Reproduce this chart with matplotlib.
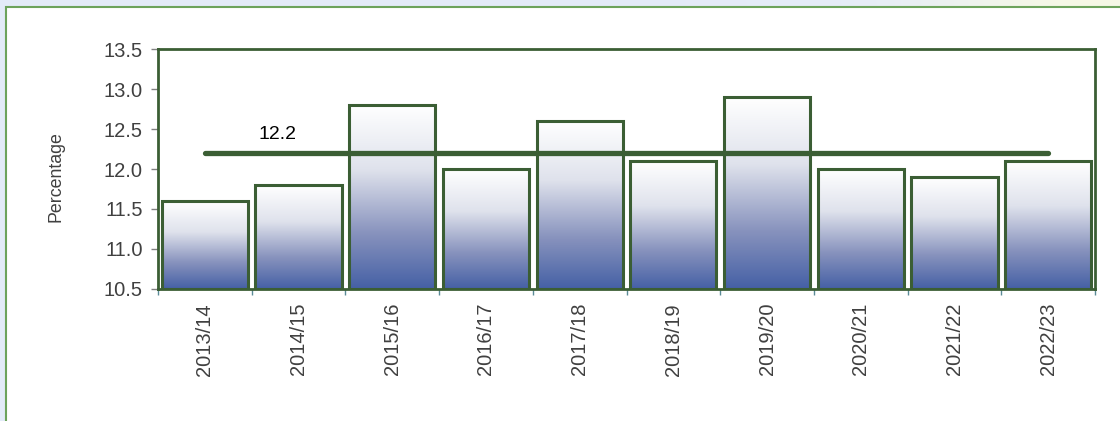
import numpy as np
import matplotlib
matplotlib.use("Agg")
import matplotlib.pyplot as plt
from matplotlib.colors import LinearSegmentedColormap
from matplotlib.patches import Rectangle

# data
years = ["2013/14", "2014/15", "2015/16", "2016/17", "2017/18",
         "2018/19", "2019/20", "2020/21", "2021/22", "2022/23"]
values = [11.6, 11.8, 12.8, 12.0, 12.6, 12.1, 12.9, 12.0, 11.9, 12.1]
average = 12.2
y_ticks = [10.5, 11.0, 11.5, 12.0, 12.5, 13.0, 13.5]

plt.rcParams['font.family'] = ['Liberation Sans', 'DejaVu Sans']

green = "#3b5e34"
fig = plt.figure(figsize=(11.2, 4.21), dpi=100)

# page background: light blue with a pale glow top right
bg = fig.add_axes([0, 0, 1, 1], zorder=-10)
h, w = 421, 1120
yy, xx = np.mgrid[0:h, 0:w]
glow = np.exp(-(((xx - 1090) / 160.0) ** 2 + ((yy - 0) / 40.0) ** 2))
base = np.array([0.894, 0.925, 0.976])
hi = np.array([0.965, 0.975, 0.90])
img = base[None, None, :] * (1 - glow[..., None]) + hi[None, None, :] * glow[..., None]
bg.imshow(img, extent=[0, w, h, 0], aspect='auto')
bg.add_patch(Rectangle((5.5, 6.5), 1200, 500, facecolor='white',
                       edgecolor='#6da35c', lw=1.5))
bg.set_xlim(0, w)
bg.set_ylim(h, 0)
bg.axis('off')

ax = fig.add_axes([158 / w, 1 - 289 / h, (1095 - 158) / w, (289 - 49) / h])
ax.set_facecolor('none')

cmap = LinearSegmentedColormap.from_list(
    "barfade", [(0, "#4560a5"), (0.3, "#8792bd"), (0.65, "#dfe2ec"), (1.0, "#ffffff")])
grad = np.linspace(0, 1, 256).reshape(-1, 1)

x = np.arange(len(years))
bw = 0.92
ymin = y_ticks[0]
for xi, v in zip(x, values):
    ax.imshow(grad, cmap=cmap, origin='lower', aspect='auto',
              extent=[xi - bw / 2, xi + bw / 2, ymin, v], zorder=1)
    ax.add_patch(Rectangle((xi - bw / 2, ymin), bw, v - ymin, facecolor='none',
                           edgecolor=green, lw=2.2, zorder=2))

ax.plot([x[0], x[-1]], [average, average], color=green, lw=3.8,
        solid_capstyle='round', zorder=3)
ax.text(0.78, average + 0.13, f"{average}", fontsize=14, color='black',
        ha='center', va='bottom')

ax.set_xlim(-0.5, len(years) - 0.5)
ax.set_ylim(y_ticks[0], y_ticks[-1])
ax.set_yticks(y_ticks)
ax.set_yticklabels([f"{t:.1f}" for t in y_ticks], fontsize=14.5, color='#404040')
ax.set_xticks(x)
ax.set_xticklabels(years, rotation=90, fontsize=14.5, color='#404040')
ax.set_xticks(np.arange(-0.5, len(years)), minor=True)
ax.tick_params(axis='x', which='major', length=0, pad=10)
ax.tick_params(axis='x', which='minor', length=4, color='#5a8a96', width=1)
ax.tick_params(axis='y', length=5, color='#808080', width=1, pad=6)
for s in ax.spines.values():
    s.set_color(green)
    s.set_linewidth(2)
ax.set_ylabel("Percentage", fontsize=12.8, color='#404040')
ax.yaxis.set_label_coords(-0.1, 0.47)

fig.savefig("out.png", dpi=100)
